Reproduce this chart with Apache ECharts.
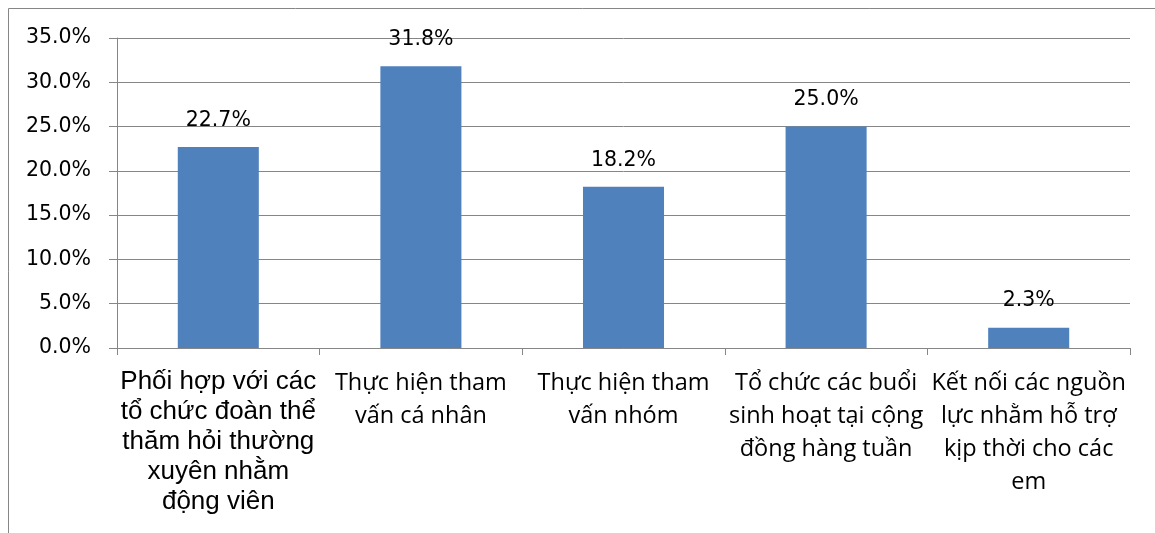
<!DOCTYPE html>
<html>
<head>
<meta charset="utf-8">
<script src="https://cdn.jsdelivr.net/npm/echarts@6/dist/echarts.min.js"></script>
<style>
html,body{margin:0;padding:0;background:#fff;}
#c{width:1155px;height:533px;}
</style>
</head>
<body>
<div id="c"></div>
<script>
const categories = [
  "Phối hợp với các\ntổ chức đoàn thể\nthăm hỏi thường\nxuyên nhằm\nđộng viên",
  "Thực hiện tham\nvấn cá nhân",
  "Thực hiện tham\nvấn nhóm",
  "Tổ chức các buổi\nsinh hoạt tại cộng\nđồng hàng tuần",
  "Kết nối các nguồn\nlực nhằm hỗ trợ\nkịp thời cho các\nem"
];
const values = [22.7, 31.8, 18.2, 25.0, 2.3];
const yTicks = [0, 5, 10, 15, 20, 25, 30, 35];

const chart = echarts.init(document.getElementById('c'), null, {renderer: 'canvas'});
const gray = '#868686';
chart.setOption({
  animation: false,
  backgroundColor: '#fff',
  graphic: [{
    type: 'rect',
    shape: {x: 8.5, y: 8.5, width: 1300, height: 700},
    style: {fill: 'none', stroke: gray, lineWidth: 1},
    silent: true
  }],
  grid: {left: 117, right: 25, top: 38, bottom: 185, containLabel: false},
  xAxis: {
    type: 'category',
    data: categories,
    axisLine: {lineStyle: {color: gray, width: 1}},
    axisTick: {show: true, length: 7, lineStyle: {color: gray}},
    axisLabel: {
      interval: 0,
      margin: 19,
      color: '#000',
      formatter: function (v, i) {
        const tag = i === 0 ? 'a' : 'b';
        return v.split('\n').map(s => '{' + tag + '|' + s + '}').join('\n');
      },
      rich: {
        a: {fontFamily: 'Liberation Sans', fontSize: 26, lineHeight: 30, color: '#000'},
        b: {fontFamily: 'Open Sans', fontSize: 23.5, lineHeight: 33, color: '#000'}
      }
    }
  },
  yAxis: {
    type: 'value',
    min: yTicks[0],
    max: yTicks[yTicks.length - 1],
    interval: 5,
    axisLine: {show: true, lineStyle: {color: gray, width: 1}},
    axisTick: {show: true, length: 8, lineStyle: {color: gray}},
    splitLine: {show: true, lineStyle: {color: gray, width: 1}},
    axisLabel: {
      margin: 26,
      color: '#000',
      fontFamily: 'DejaVu Sans',
      fontSize: 20.5,
      formatter: v => v.toFixed(1) + '%'
    }
  },
  series: [{
    type: 'bar',
    data: values,
    barWidth: '40%',
    itemStyle: {color: '#4F81BD'},
    label: {
      show: true,
      position: 'top',
      distance: 16,
      color: '#000',
      fontFamily: 'DejaVu Sans',
      fontSize: 20.5,
      formatter: p => p.value.toFixed(1) + '%'
    }
  }]
});
</script>
</body>
</html>
